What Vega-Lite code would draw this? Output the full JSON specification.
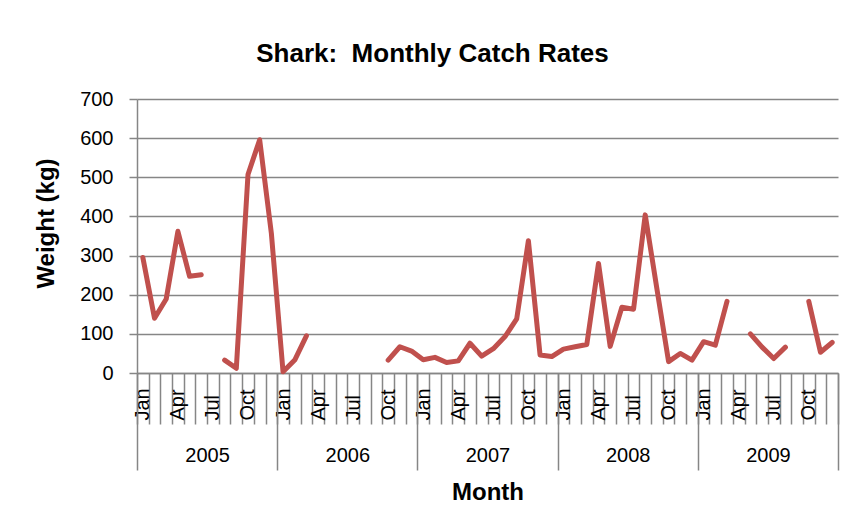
{
  "$schema": "https://vega.github.io/schema/vega-lite/v6.json",
  "width": 701,
  "height": 274,
  "autosize": {"type": "none"},
  "padding": {"left": 137, "top": 99, "right": 8, "bottom": 134},
  "background": "white",
  "title": {
    "text": "Shark:\u00a0 Monthly Catch Rates",
    "font": "Liberation Sans",
    "fontSize": 26,
    "fontWeight": "bold",
    "color": "black",
    "anchor": "middle",
    "dx": -55,
    "offset": 22
  },
  "config": {
    "view": {"stroke": null},
    "font": "Liberation Sans",
    "axis": {
      "labelFont": "Liberation Sans",
      "labelColor": "black",
      "titleFont": "Liberation Sans",
      "titleColor": "black",
      "domainColor": "#868686",
      "domainWidth": 1.5,
      "tickColor": "#868686",
      "tickWidth": 1.5,
      "gridColor": "#868686",
      "gridWidth": 1.5
    }
  },
  "layer": [
    {
      "data": {
        "values": [
          {"month": "2005-01", "weight": 295},
          {"month": "2005-02", "weight": 140},
          {"month": "2005-03", "weight": 189},
          {"month": "2005-04", "weight": 362},
          {"month": "2005-05", "weight": 247},
          {"month": "2005-06", "weight": 251},
          {"month": "2005-07", "weight": null},
          {"month": "2005-08", "weight": 33},
          {"month": "2005-09", "weight": 12},
          {"month": "2005-10", "weight": 507},
          {"month": "2005-11", "weight": 596},
          {"month": "2005-12", "weight": 357},
          {"month": "2006-01", "weight": 3},
          {"month": "2006-02", "weight": 33},
          {"month": "2006-03", "weight": 95},
          {"month": "2006-04", "weight": null},
          {"month": "2006-05", "weight": null},
          {"month": "2006-06", "weight": null},
          {"month": "2006-07", "weight": null},
          {"month": "2006-08", "weight": null},
          {"month": "2006-09", "weight": null},
          {"month": "2006-10", "weight": 33},
          {"month": "2006-11", "weight": 67},
          {"month": "2006-12", "weight": 56},
          {"month": "2007-01", "weight": 34},
          {"month": "2007-02", "weight": 40},
          {"month": "2007-03", "weight": 27},
          {"month": "2007-04", "weight": 31},
          {"month": "2007-05", "weight": 76},
          {"month": "2007-06", "weight": 43},
          {"month": "2007-07", "weight": 62},
          {"month": "2007-08", "weight": 93},
          {"month": "2007-09", "weight": 138},
          {"month": "2007-10", "weight": 338},
          {"month": "2007-11", "weight": 46},
          {"month": "2007-12", "weight": 42},
          {"month": "2008-01", "weight": 61},
          {"month": "2008-02", "weight": 67},
          {"month": "2008-03", "weight": 73},
          {"month": "2008-04", "weight": 280},
          {"month": "2008-05", "weight": 68},
          {"month": "2008-06", "weight": 168},
          {"month": "2008-07", "weight": 163},
          {"month": "2008-08", "weight": 404},
          {"month": "2008-09", "weight": 215},
          {"month": "2008-10", "weight": 29},
          {"month": "2008-11", "weight": 50},
          {"month": "2008-12", "weight": 33},
          {"month": "2009-01", "weight": 80},
          {"month": "2009-02", "weight": 71},
          {"month": "2009-03", "weight": 183},
          {"month": "2009-04", "weight": null},
          {"month": "2009-05", "weight": 100},
          {"month": "2009-06", "weight": 66},
          {"month": "2009-07", "weight": 37},
          {"month": "2009-08", "weight": 66},
          {"month": "2009-09", "weight": null},
          {"month": "2009-10", "weight": 183},
          {"month": "2009-11", "weight": 53},
          {"month": "2009-12", "weight": 78}
        ]
      },
      "mark": {
        "type": "line",
        "color": "#C0504D",
        "strokeWidth": 5,
        "strokeCap": "round",
        "strokeJoin": "round"
      },
      "encoding": {
        "x": {
          "field": "month",
          "type": "ordinal",
          "sort": null,
          "scale": {"type": "band", "paddingInner": 0, "paddingOuter": 0},
          "axis": {
            "orient": "bottom",
            "title": null,
            "grid": false,
            "tickBand": "extent",
            "tickSize": 51,
            "labelExpr": "isString(datum.value) ? (slice(datum.value, 5) == '01' ? 'Jan' : slice(datum.value, 5) == '04' ? 'Apr' : slice(datum.value, 5) == '07' ? 'Jul' : slice(datum.value, 5) == '10' ? 'Oct' : '') : ''",
            "labelAngle": 270,
            "labelAlign": "left",
            "labelBaseline": "middle",
            "labelPadding": -4,
            "labelFontSize": 20,
            "labelOverlap": false
          }
        },
        "y": {
          "field": "weight",
          "type": "quantitative",
          "scale": {"domain": [0, 700], "nice": false},
          "axis": {
            "title": "Weight (kg)",
            "titleFontSize": 24,
            "titleFontWeight": "bold",
            "titleX": -91,
            "titleY": 124,
            "titleBaseline": "middle",
            "values": [0, 100, 200, 300, 400, 500, 600, 700],
            "tickSize": 8,
            "labelPadding": 16,
            "labelFontSize": 20
          }
        }
      }
    },
    {
      "data": {
        "values": [
          {"year": "2005"},
          {"year": "2006"},
          {"year": "2007"},
          {"year": "2008"},
          {"year": "2009"}
        ]
      },
      "mark": {"type": "rule", "opacity": 0},
      "encoding": {
        "x": {
          "field": "year",
          "type": "ordinal",
          "scale": {"type": "band", "paddingInner": 0, "paddingOuter": 0},
          "axis": {
            "orient": "bottom",
            "title": "Month",
            "titleFontSize": 24,
            "titleFontWeight": "bold",
            "titlePadding": 10,
            "domain": false,
            "grid": false,
            "tickBand": "extent",
            "tickSize": 97,
            "labelAngle": 0,
            "labelAlign": "center",
            "labelBaseline": "middle",
            "labelPadding": -15,
            "labelFontSize": 20
          }
        }
      }
    }
  ],
  "resolve": {"scale": {"x": "independent"}, "axis": {"x": "independent"}}
}
